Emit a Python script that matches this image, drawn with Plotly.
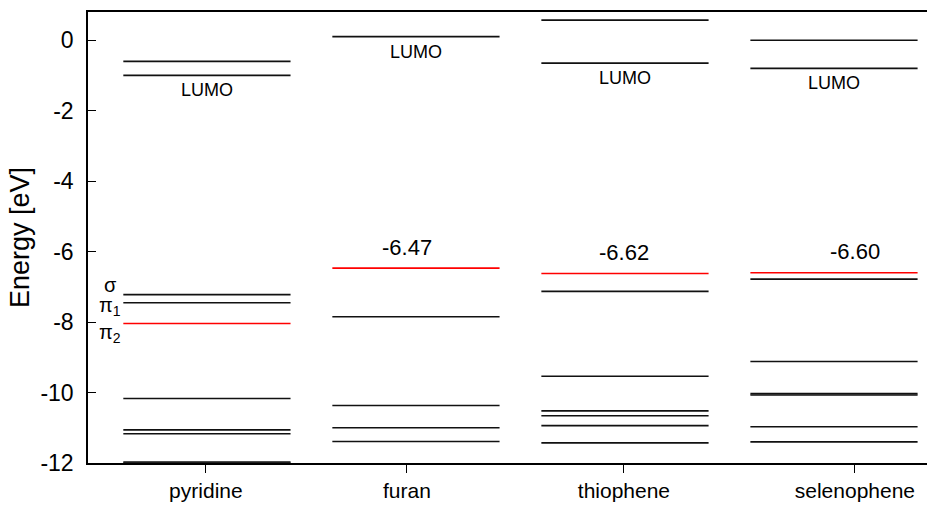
import plotly.graph_objects as go

# ---------------- data ----------------
molecules = ["pyridine", "furan", "thiophene", "selenophene"]
mol_center = [1, 2, 3, 4]
tick_pos = [0.995, 1.957, 2.995, 4.10]

pyridine_levels = [-0.60, -1.00, -7.22, -7.45, -10.17, -11.06, -11.17, -11.97, -12.0]
furan_levels = [0.10, -7.85, -10.37, -11.00, -11.39]
thiophene_levels = [0.57, -0.65, -7.13, -9.54, -10.52, -10.66, -10.94, -11.43]
selenophene_levels = [0.0, -0.80, -6.78, -9.12, -10.03, -10.07, -10.97, -11.40]

homo_levels = [-8.04, -6.47, -6.62, -6.60]
homo_labels = [None, "-6.47", "-6.62", "-6.60"]
lumo_levels = [-1.00, 0.10, -0.65, -0.80]

pyridine_orbital_labels = ["σ", "π<sub>1</sub>", "π<sub>2</sub>"]
pyridine_orbital_levels = [-7.22, -7.45, -8.04]

ytick_vals = [0, -2, -4, -6, -8, -10, -12]
ytick_text = ["0", "-2", "-4", "-6", "-8", "-10", "-12"]

half_width = 0.40
FONT = "Liberation Sans, Arial, Helvetica, sans-serif"

all_levels = [pyridine_levels, furan_levels, thiophene_levels, selenophene_levels]

fig = go.Figure()

# black levels
bx, by = [], []
for c, levels in zip(mol_center, all_levels):
    for e in levels:
        bx += [c - half_width, c + half_width, None]
        by += [e, e, None]
fig.add_trace(go.Scatter(x=bx, y=by, mode="lines",
                         line=dict(color="#111111", width=1.6),
                         hoverinfo="skip", showlegend=False))

# red (HOMO) levels
rx, ry = [], []
for c, e in zip(mol_center, homo_levels):
    rx += [c - half_width, c + half_width, None]
    ry += [e, e, None]
fig.add_trace(go.Scatter(x=rx, y=ry, mode="lines",
                         line=dict(color="#ff0000", width=1.6),
                         hoverinfo="skip", showlegend=False))

annotations = []
# LUMO labels
for c, e in zip(mol_center, lumo_levels):
    annotations.append(dict(x=c, y=e, text="LUMO", showarrow=False,
                            xanchor="center", yanchor="middle", yshift=-15,
                            font=dict(family=FONT, size=18, color="black")))
# HOMO value labels
for t, e, lab in zip(tick_pos, homo_levels, homo_labels):
    if lab:
        annotations.append(dict(x=t, y=e, text=lab, showarrow=False,
                                xanchor="center", yanchor="middle", yshift=21,
                                font=dict(family=FONT, size=22, color="black")))
# sigma / pi labels for pyridine
shifts = [10, -4, -10]
for lab, e, s in zip(pyridine_orbital_labels, pyridine_orbital_levels, shifts):
    annotations.append(dict(x=mol_center[0] - half_width, y=e, text=lab,
                            showarrow=False, xanchor="center", yanchor="middle",
                            xshift=-13, yshift=s,
                            font=dict(family=FONT, size=20, color="black")))

fig.update_layout(
    width=927, height=505,
    margin=dict(l=88, r=0, t=12, b=42),
    paper_bgcolor="white", plot_bgcolor="white",
    font=dict(family=FONT, color="black"),
    annotations=annotations,
    xaxis=dict(range=[0.431, 4.445], tickvals=tick_pos, ticktext=molecules,
               showgrid=False, zeroline=False, showline=True, mirror=True,
               linecolor="black", linewidth=1.5, ticks="outside", ticklen=8,
               tickcolor="black", tickwidth=1.2,
               tickfont=dict(family=FONT, size=21, color="black")),
    yaxis=dict(range=[-12, 0.8], tickvals=ytick_vals, ticktext=ytick_text,
               showgrid=False, zeroline=False, showline=True, mirror=False,
               linecolor="black", linewidth=1.5, ticks="inside", ticklen=8,
               tickcolor="black", tickwidth=1.2, ticklabelstandoff=8,
               tickfont=dict(family=FONT, size=23, color="black"),
               title=dict(text="Energy [eV]", standoff=3,
                          font=dict(family=FONT, size=27, color="black"))),
)

fig.write_html("out.html",
               config={"displayModeBar": False},
               post_script="document.body.style.margin='0';document.body.style.overflow='hidden';")
